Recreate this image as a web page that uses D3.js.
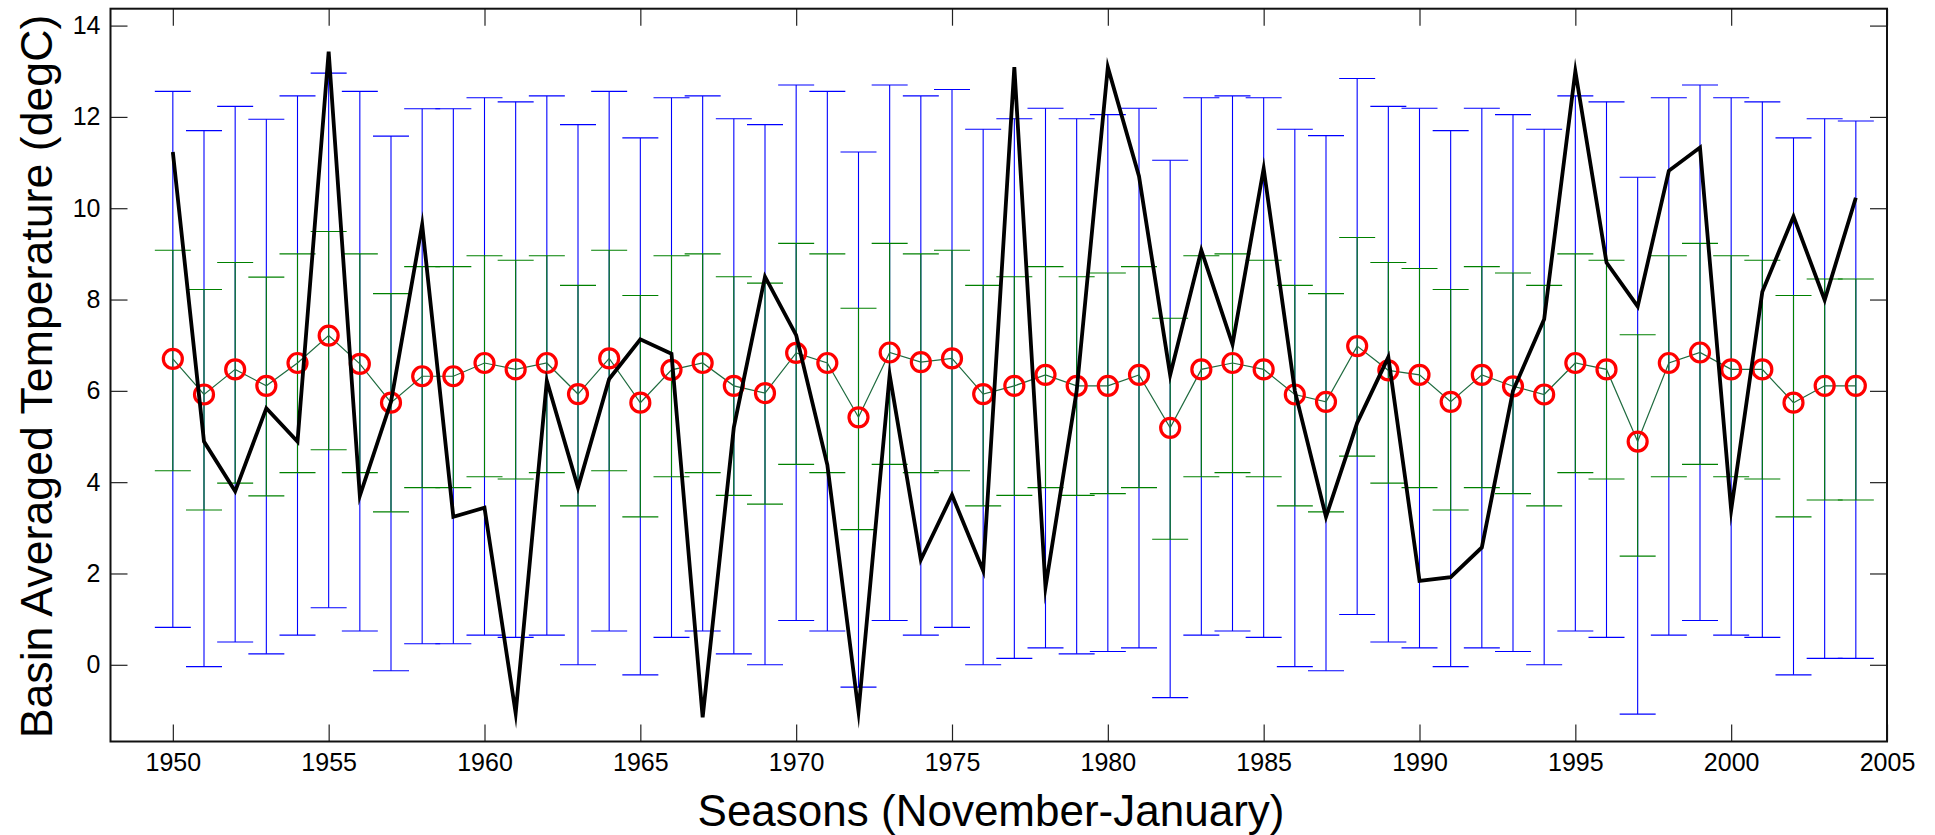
<!DOCTYPE html>
<html>
<head>
<meta charset="utf-8">
<script src="https://cdn.jsdelivr.net/npm/d3@7"></script>
<style>
  html, body { margin: 0; padding: 0; background: #fff; }
  svg { display: block; }
  text { font-family: "Liberation Sans", Arial, Helvetica, sans-serif; fill: #000; }
</style>
</head>
<body>
<svg id="chart" width="1935" height="835"></svg>
<script>
const years = d3.range(1950, 2005);

const observed = [11.23, 4.89, 3.80, 5.62, 4.89, 13.43, 3.70, 5.76, 9.64, 3.24,
  3.44, -1.06, 6.22, 3.88, 6.26, 7.13, 6.81, -1.15, 5.20, 8.50,
  7.22, 4.38, -1.02, 6.35, 2.30, 3.72, 2.06, 13.09, 1.70, 6.00,
  13.09, 10.70, 6.35, 9.08, 7.02, 10.87, 6.00, 3.24, 5.30, 6.74,
  1.84, 1.92, 2.57, 6.00, 7.57, 13.00, 8.81, 7.85, 10.82, 11.33,
  3.39, 8.17, 9.82, 7.99, 10.23];

const ensMean = [6.70, 5.92, 6.47, 6.11, 6.61, 7.21, 6.59, 5.74, 6.32, 6.32,
  6.61, 6.47, 6.61, 5.93, 6.71, 5.74, 6.46, 6.61, 6.11, 5.95,
  6.83, 6.61, 5.42, 6.84, 6.63, 6.71, 5.93, 6.11, 6.35, 6.11,
  6.11, 6.35, 5.19, 6.47, 6.61, 6.47, 5.92, 5.76, 6.98, 6.45,
  6.35, 5.76, 6.35, 6.10, 5.92, 6.61, 6.47, 4.89, 6.61, 6.84,
  6.47, 6.47, 5.74, 6.11, 6.11];

const stdUpper = [9.08, 8.22, 8.81, 8.49, 9.00, 9.49, 9.00, 8.13, 8.72, 8.72,
  8.96, 8.86, 8.96, 8.31, 9.08, 8.09, 8.96, 9.00, 8.50, 8.36,
  9.23, 9.00, 7.81, 9.23, 9.00, 9.08, 8.31, 8.50, 8.72, 8.50,
  8.58, 8.72, 7.59, 8.96, 9.00, 8.86, 8.31, 8.13, 9.36, 8.81,
  8.68, 8.22, 8.72, 8.58, 8.31, 9.00, 8.86, 7.23, 8.96, 9.23,
  8.96, 8.86, 8.09, 8.45, 8.45];

const stdLower = [4.25, 3.39, 3.98, 3.70, 4.21, 4.71, 4.21, 3.35, 3.88, 3.88,
  4.12, 4.07, 4.21, 3.48, 4.25, 3.24, 4.12, 4.21, 3.71, 3.52,
  4.39, 4.21, 2.96, 4.39, 4.21, 4.25, 3.48, 3.71, 3.88, 3.71,
  3.75, 3.88, 2.75, 4.12, 4.21, 4.12, 3.48, 3.35, 4.57, 3.98,
  3.88, 3.39, 3.88, 3.75, 3.48, 4.21, 4.07, 2.38, 4.12, 4.39,
  4.12, 4.07, 3.24, 3.61, 3.61];

const rangeMax = [12.56, 11.70, 12.23, 11.95, 12.46, 12.96, 12.56, 11.58, 12.18, 12.18,
  12.42, 12.33, 12.46, 11.83, 12.56, 11.54, 12.42, 12.46, 11.96, 11.83,
  12.70, 12.56, 11.23, 12.70, 12.46, 12.60, 11.73, 11.96, 12.19, 11.96,
  12.05, 12.19, 11.05, 12.42, 12.46, 12.42, 11.73, 11.59, 12.84, 12.23,
  12.19, 11.70, 12.19, 12.05, 11.73, 12.46, 12.33, 10.68, 12.42, 12.70,
  12.42, 12.33, 11.54, 11.96, 11.91];

const rangeMin = [0.82, -0.04, 0.50, 0.24, 0.65, 1.25, 0.74, -0.13, 0.46, 0.46,
  0.65, 0.60, 0.65, 0.00, 0.74, -0.22, 0.60, 0.74, 0.24, 0.00,
  0.97, 0.74, -0.49, 0.97, 0.65, 0.82, 0.00, 0.14, 0.37, 0.24,
  0.29, 0.37, -0.72, 0.65, 0.74, 0.60, -0.04, -0.13, 1.10, 0.50,
  0.37, -0.04, 0.37, 0.29, 0.00, 0.74, 0.60, -1.08, 0.65, 0.97,
  0.65, 0.60, -0.22, 0.14, 0.14];

const xTicks = [1950, 1955, 1960, 1965, 1970, 1975, 1980, 1985, 1990, 1995, 2000, 2005];
const yTicks = [0, 2, 4, 6, 8, 10, 12, 14];
const xTitle = "Seasons (November-January)";
const yTitle = "Basin Averaged Temperature (degC)";

const L = 110.5, R = 1887, T = 8.7, B = 741.5;
const x = d3.scaleLinear().domain([1948, 2005]).range([L, R]);
const y = d3.scaleLinear().domain([-1.68, 14.37]).range([B, T]);

const svg = d3.select("#chart");
svg.append("rect").attr("width", 1935).attr("height", 835).attr("fill", "#fff");

const capW = 18;
const rows = years.map((yr, i) => ({
  yr, obs: observed[i], mean: ensMean[i],
  sLo: stdLower[i], sHi: stdUpper[i], rLo: rangeMin[i], rHi: rangeMax[i]
}));

// blue range bars
const gb = svg.append("g").attr("stroke", "#0000ff").attr("stroke-width", 1.1).attr("fill", "none");
rows.forEach(d => {
  const cx = x(d.yr);
  gb.append("line").attr("x1", cx).attr("x2", cx).attr("y1", y(d.rLo)).attr("y2", y(d.rHi));
  gb.append("line").attr("x1", cx - capW).attr("x2", cx + capW).attr("y1", y(d.rLo)).attr("y2", y(d.rLo));
  gb.append("line").attr("x1", cx - capW).attr("x2", cx + capW).attr("y1", y(d.rHi)).attr("y2", y(d.rHi));
});

// green std bars
const gg = svg.append("g").attr("stroke", "#008000").attr("stroke-width", 1.1).attr("fill", "none");
rows.forEach(d => {
  const cx = x(d.yr);
  gg.append("line").attr("x1", cx).attr("x2", cx).attr("y1", y(d.sLo)).attr("y2", y(d.sHi));
  gg.append("line").attr("x1", cx - capW).attr("x2", cx + capW).attr("y1", y(d.sLo)).attr("y2", y(d.sLo));
  gg.append("line").attr("x1", cx - capW).attr("x2", cx + capW).attr("y1", y(d.sHi)).attr("y2", y(d.sHi));
});

// mean connecting line
svg.append("path").datum(rows)
  .attr("fill", "none").attr("stroke", "#1f6b3f").attr("stroke-width", 1.2)
  .attr("d", d3.line().x(d => x(d.yr)).y(d => y(d.mean)));

// red circles
svg.append("g").selectAll("circle").data(rows).join("circle")
  .attr("cx", d => x(d.yr)).attr("cy", d => y(d.mean)).attr("r", 9.5)
  .attr("fill", "none").attr("stroke", "#ff0000").attr("stroke-width", 3.2);

// observed black line
svg.append("path").datum(rows)
  .attr("fill", "none").attr("stroke", "#000").attr("stroke-width", 3.8)
  .attr("stroke-linejoin", "miter").attr("stroke-miterlimit", 10)
  .attr("d", d3.line().x(d => x(d.yr)).y(d => y(d.obs)));

// axes
const tickLen = 17;
const fmt = d3.format("d");
const axB = svg.append("g").attr("transform", `translate(0,${B})`)
  .call(d3.axisBottom(x).tickValues(xTicks).tickFormat(fmt).tickSizeInner(-tickLen).tickSizeOuter(0).tickPadding(12));
const axT = svg.append("g").attr("transform", `translate(0,${T})`)
  .call(d3.axisTop(x).tickValues(xTicks).tickFormat("").tickSizeInner(-tickLen).tickSizeOuter(0));
const axL = svg.append("g").attr("transform", `translate(${L},0)`)
  .call(d3.axisLeft(y).tickValues(yTicks).tickFormat(fmt).tickSizeInner(-tickLen).tickSizeOuter(0).tickPadding(10));
const axR = svg.append("g").attr("transform", `translate(${R},0)`)
  .call(d3.axisRight(y).tickValues(yTicks).tickFormat("").tickSizeInner(-tickLen).tickSizeOuter(0));
[axB, axT, axL, axR].forEach(a => {
  a.select(".domain").remove();
  a.selectAll(".tick line").attr("stroke", "#222").attr("stroke-width", 1.2);
  a.selectAll("text").attr("font-size", 25).attr("fill", "#000")
    .style("font-family", '"Liberation Sans", Arial, Helvetica, sans-serif');
});

// frame
svg.append("rect").attr("x", L).attr("y", T).attr("width", R - L).attr("height", B - T)
  .attr("fill", "none").attr("stroke", "#111").attr("stroke-width", 2);

// titles
svg.append("text").attr("x", 991).attr("y", 826).attr("text-anchor", "middle")
  .attr("font-size", 44).text(xTitle);
svg.append("text").attr("transform", "translate(52,376.5) rotate(-90)").attr("text-anchor", "middle")
  .attr("font-size", 44.7).text(yTitle);
</script>
</body>
</html>
